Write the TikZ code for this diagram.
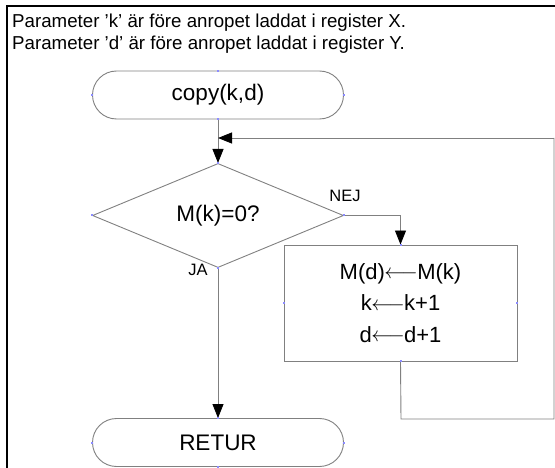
\documentclass[tikz,border=0pt]{standalone}
\usepackage{fontspec}
\setmainfont{Liberation Sans}
\usetikzlibrary{arrows.meta,shapes.geometric}
\definecolor{linegrey}{HTML}{808080}
\definecolor{pointblue}{HTML}{8C8CFF}
\newcommand{\assignarrow}{\kern-0.5pt\raisebox{0.5pt}{$\longleftarrow$}\kern-0.5pt}
\tikzset{
  shapeline/.style={draw=linegrey, line width=0.9pt},
  terminal/.style={shapeline, rectangle, rounded corners=24pt, minimum width=251pt, minimum height=48pt, inner sep=0pt, font=\fontsize{22.5}{26}\selectfont},
  decision/.style={shapeline, diamond, minimum width=251pt, minimum height=77pt, inner sep=0pt, font=\fontsize{22.5}{26}\selectfont},
  process/.style={shapeline, rectangle, minimum width=233pt, minimum height=116pt, inner sep=0pt, align=center, font=\fontsize{22}{31.5}\selectfont},
  flow/.style={draw=linegrey, line width=0.9pt},
  flowarrow/.style={flow, -{Triangle[length=14pt, width=11pt, fill=black, color=black]}},
  lbl/.style={font=\fontsize{16.5}{19}\selectfont, inner sep=0pt},
  note/.style={font=\fontsize{18.7}{22}\selectfont, inner sep=0pt, anchor=base west},
  cpoint/.style={fill=pointblue, inner sep=0pt, minimum size=2pt, rectangle}
}
\begin{document}
\begin{tikzpicture}[x=1pt, y=-1pt]
\useasboundingbox (0,0) rectangle (555,468);
% frame
\draw[black, line width=2pt] (7,468) -- (7,6) -- (555,6);
% notes
\node[note] (n1) at (12,28) {Parameter 'k' är före anropet laddat i register X.};
\node[note] (n2) at (12,50) {Parameter 'd' är före anropet laddat i register Y.};
% shapes
\node[terminal] (start) at (218,95) {copy(k,d)};
\node[decision] (dec) at (218,215.5) {M(k)=0?};
\node[process] (proc) at (400.5,303) {M(d)\assignarrow M(k)\\k\assignarrow k+1\\d\assignarrow d+1};
\node[terminal] (ret) at (218,442.5) {RETUR};
% loop coordinates
\coordinate (lb) at (401,419);
\coordinate (lbr) at (554,419);
\coordinate (ltr) at (554,138);
\coordinate (join) at (218,138);
% connectors
\draw[flowarrow] (start.south) -- (dec.north);
\draw[flowarrow] (dec.east) -| (proc.north);
\draw[flow] (proc.south) -- (lb) -- (lbr) -- (ltr);
\draw[flowarrow] (ltr) -- (join);
\draw[flowarrow] (dec.south) -- (ret.north);
% labels
\node[lbl] (nej) at (345,196) {NEJ};
\node[lbl] (ja) at (198,270) {JA};
% connection points
\foreach \n in {start,dec,proc,ret}{
  \foreach \a in {north,south,east,west}{
    \node[cpoint] at (\n.\a) {};
  }
}
\end{tikzpicture}
\end{document}
